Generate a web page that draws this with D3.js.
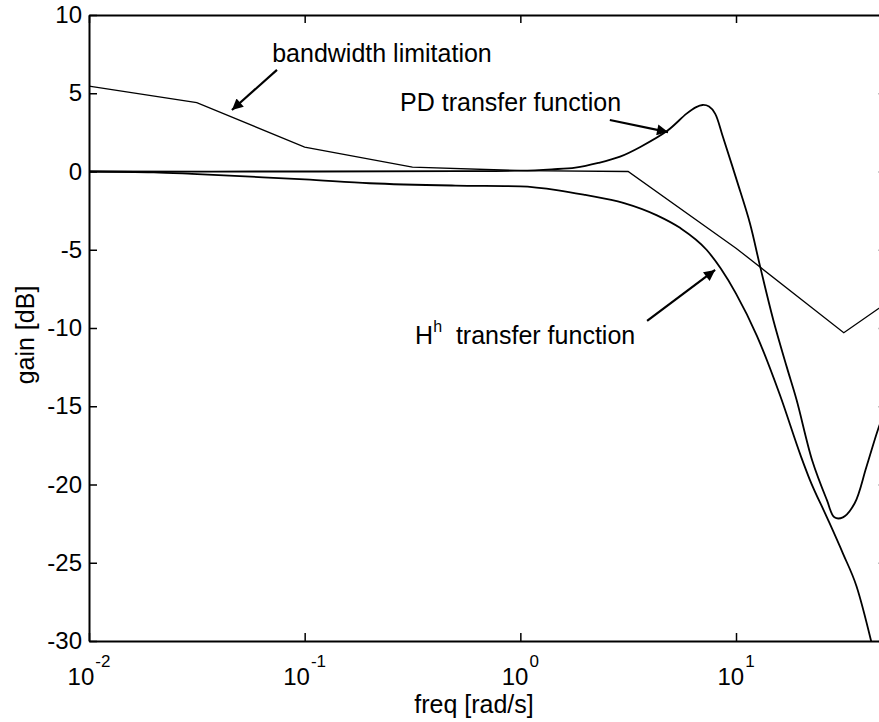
<!DOCTYPE html>
<html>
<head>
<meta charset="utf-8">
<script src="https://cdn.jsdelivr.net/npm/d3@7"></script>
<style>
  html, body { margin: 0; padding: 0; background: #fff; }
  svg { display: block; }
  text { font-family: "Liberation Sans", Arial, Helvetica, sans-serif; fill: #000; }
</style>
</head>
<body>
<script>
// Bode magnitude plot: three gain curves over a log frequency axis.

// Frequency axis ticks (decades) and gain ticks (dB)
const xTickExponents = [-2, -1, 0, 1];
const yTicks = [-30, -25, -20, -15, -10, -5, 0, 5, 10];

// Bandwidth limitation (sampled every half decade)
const bwFreq = [0.01, 0.0316, 0.1, 0.316, 1, 3.16, 10, 31.6, 100];
const bwGain = [5.45, 4.4, 1.56, 0.28, 0.06, 0, -4.9, -10.3, -5.5];

// PD transfer function
const pdFreq = [0.01, 0.1, 0.5, 1.0, 1.4, 1.8, 2.3, 2.9, 3.6, 4.8, 5.9, 6.5, 7.0, 7.5, 8.0, 8.7, 10.1, 11.6, 12.9, 14.9, 17.2, 19.1, 22.6, 26.4, 28.6, 31.3, 35.5, 40.2, 45.5, 50];
const pdGain = [0, 0, 0.02, 0.05, 0.14, 0.25, 0.55, 0.95, 1.57, 2.6, 3.7, 4.1, 4.25, 4.15, 3.7, 2.2, -0.6, -3.3, -6.0, -9.5, -12.5, -14.6, -18.5, -21.0, -22.1, -22.1, -21.2, -18.9, -16.5, -15.0];

// H^h transfer function
const hFreq = [0.01, 0.02, 0.03, 0.05, 0.1, 0.2, 0.5, 1, 1.5, 2, 3, 4.3, 5.5, 7.3, 8.5, 10, 12.5, 16, 20, 22, 26.4, 31.3, 36.2, 43];
const hGain = [0, -0.05, -0.15, -0.3, -0.5, -0.75, -0.9, -0.95, -1.2, -1.5, -2.0, -2.8, -3.6, -5.0, -6.2, -7.8, -10.5, -14.3, -18.2, -19.7, -22.1, -24.4, -26.5, -30.4];

// Annotation text anchors and arrows, in data units (freq, gain)
const labels = [
  { text: "bandwidth limitation", f: 0.0707, g: 7.0 },
  { text: "PD transfer function", f: 0.277, g: 3.87 },
  { text: "H", sup: "h", rest: "\u00a0 transfer function", f: 0.325, g: -11.0 }
];
const arrows = [
  { f0: 0.0744, g0: 6.49, f1: 0.046, g1: 3.93 },
  { f0: 2.6, g0: 3.29, f1: 4.84, g1: 2.52 },
  { f0: 3.87, g0: -9.55, f1: 8.0, g1: -6.29 }
];

const W = 879, H = 722;
const plotLeft = 89, plotTop = 15, plotBottom = 641;
const decade = 215.67;
const xMin = 0.01, xMax = 50;
const plotRight = plotLeft + decade * Math.log10(xMax / xMin);

const x = d3.scaleLog().domain([xMin, xMax]).range([plotLeft, plotRight]);
const y = d3.scaleLinear().domain([-30, 10]).range([plotBottom, plotTop]);

const svg = d3.select("body").append("svg")
  .attr("width", W).attr("height", H);

const defs = svg.append("defs");
defs.append("clipPath").attr("id", "plotClip")
  .append("rect")
  .attr("x", plotLeft).attr("y", plotTop)
  .attr("width", plotRight - plotLeft).attr("height", plotBottom - plotTop);

defs.append("marker")
  .attr("id", "head")
  .attr("viewBox", "0 0 10 10")
  .attr("refX", 10).attr("refY", 5)
  .attr("markerWidth", 15).attr("markerHeight", 11)
  .attr("markerUnits", "userSpaceOnUse")
  .attr("orient", "auto")
  .append("path").attr("d", "M0,0 L10,5 L0,10 Z").attr("fill", "#000");

// Curves
const plot = svg.append("g").attr("clip-path", "url(#plotClip)");

function series(freq, gain) { return freq.map((f, i) => [f, gain[i]]); }

const lineLin = d3.line().x(d => x(d[0])).y(d => y(d[1]));
const lineSmooth = d3.line().x(d => x(d[0])).y(d => y(d[1])).curve(d3.curveMonotoneX);

plot.append("path").datum(series(bwFreq, bwGain))
  .attr("d", lineLin).attr("fill", "none")
  .attr("stroke", "#000").attr("stroke-width", 1.3);

plot.append("path").datum(series(hFreq, hGain))
  .attr("d", lineSmooth).attr("fill", "none")
  .attr("stroke", "#000").attr("stroke-width", 1.8);

plot.append("path").datum(series(pdFreq, pdGain))
  .attr("d", d3.line().x(d => x(d[0])).y(d => y(d[1])).curve(d3.curveCatmullRom.alpha(0.5)))
  .attr("fill", "none")
  .attr("stroke", "#000").attr("stroke-width", 1.8);

// Axes: inward ticks on all four sides
const xTickVals = xTickExponents.map(e => Math.pow(10, e));

svg.append("g").attr("transform", `translate(0,${plotBottom})`)
  .call(d3.axisBottom(x).tickValues(xTickVals).tickSize(-8).tickSizeOuter(0).tickFormat(""));
svg.append("g").attr("transform", `translate(0,${plotTop})`)
  .call(d3.axisTop(x).tickValues(xTickVals).tickSize(-8).tickSizeOuter(0).tickFormat(""));
svg.append("g").attr("transform", `translate(${plotLeft},0)`)
  .call(d3.axisLeft(y).tickValues(yTicks).tickSize(-8).tickSizeOuter(0).tickPadding(7)
    .tickFormat(d => String(d)));
svg.append("g").attr("transform", `translate(${plotRight},0)`)
  .call(d3.axisRight(y).tickValues(yTicks).tickSize(-8).tickSizeOuter(0).tickFormat(""));

svg.selectAll(".domain").attr("stroke", "#000").attr("stroke-width", 2);
svg.selectAll(".tick line").attr("stroke", "#000").attr("stroke-width", 1.5);
svg.selectAll(".tick text")
  .attr("font-size", 24)
  .attr("font-family", "'Liberation Sans', Arial, Helvetica, sans-serif")
  .attr("fill", "#000");

// Decade labels 10^n under the frequency axis
const xl = svg.append("g");
xTickExponents.forEach(e => {
  const t = xl.append("text")
    .attr("x", x(Math.pow(10, e))).attr("y", 685)
    .attr("text-anchor", "middle");
  t.append("tspan").attr("font-size", 24).text("10");
  t.append("tspan").attr("font-size", 17).attr("dy", -18).attr("dx", 1).text(String(e));
});

// Axis titles
svg.append("text")
  .attr("x", (plotLeft + 879) / 2 - 10).attr("y", 713)
  .attr("text-anchor", "middle").attr("font-size", 25)
  .text("freq [rad/s]");
svg.append("text")
  .attr("transform", `translate(34,${(plotTop + plotBottom) / 2 + 7}) rotate(-90)`)
  .attr("text-anchor", "middle").attr("font-size", 25)
  .text("gain [dB]");

// Annotations
labels.forEach(l => {
  const t = svg.append("text")
    .attr("x", x(l.f)).attr("y", y(l.g))
    .attr("font-size", 25);
  if (l.sup) {
    t.append("tspan").text(l.text);
    t.append("tspan").attr("font-size", 16).attr("dy", -12).text(l.sup);
    t.append("tspan").attr("dy", 12).text(l.rest);
  } else {
    t.text(l.text);
  }
});

arrows.forEach(a => {
  svg.append("line")
    .attr("x1", x(a.f0)).attr("y1", y(a.g0))
    .attr("x2", x(a.f1)).attr("y2", y(a.g1))
    .attr("stroke", "#000").attr("stroke-width", 2.2)
    .attr("marker-end", "url(#head)");
});
</script>
</body>
</html>
